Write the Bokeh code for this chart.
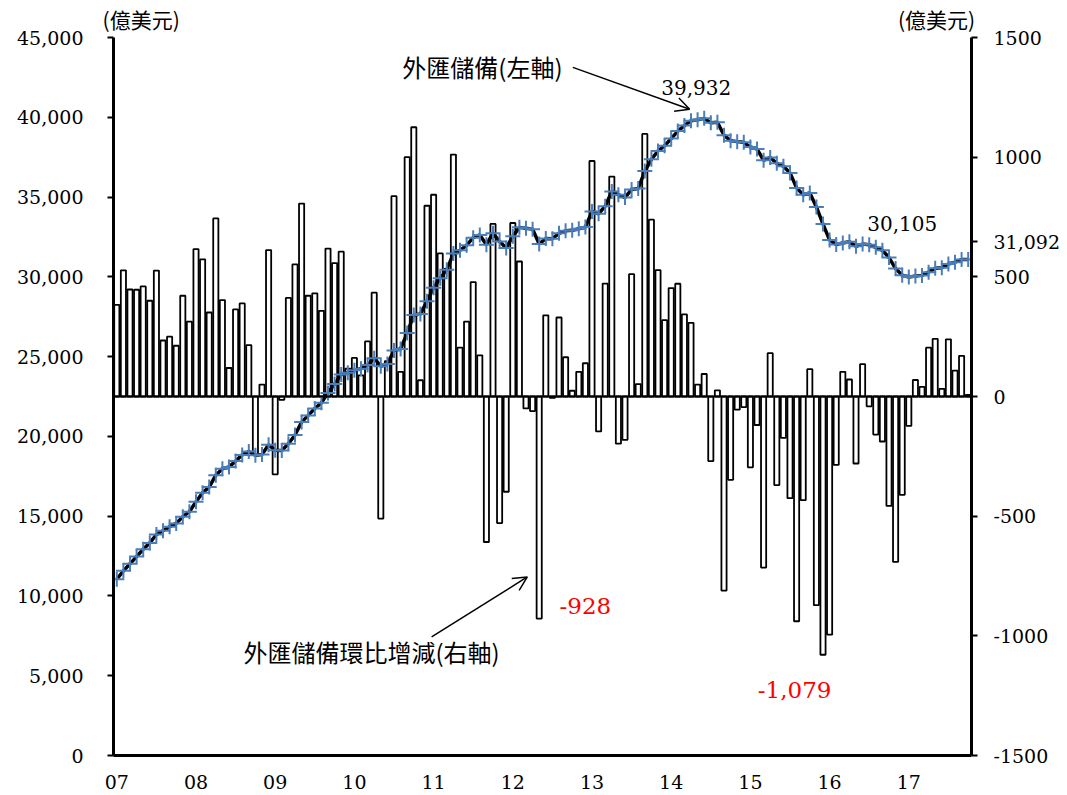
from bokeh.plotting import figure
from bokeh.models import (Range1d, LinearAxis, FixedTicker, Span, Label, Arrow,
                          OpenHead, ColumnDataSource, NumeralTickFormatter)
from bokeh.embed import file_html
from bokeh.resources import INLINE

# ---------------- data (亿美元) ----------------
year_labels = ["07", "08", "09", "10", "11", "12", "13", "14", "15", "16", "17"]

# month-on-month change of FX reserves (right axis)
chg07 = [383, 527, 447, 446, 460, 400, 526, 234, 250, 212, 421, 313]
chg08 = [616, 573, 351, 744, 403, 119, 364, 389, 215, -245, 50, 612]
chg09 = [-325, -14, 412, 552, 806, 421, 431, 358, 618, 557, 605, 116]
chg10 = [161, 88, 230, 434, -510, 148, 837, 103, 1000, 1125, 68, 797]
chg11 = [843, 598, 533, 1011, 204, 313, 478, 172, -608, 721, -529, -398]
chg12 = [725, 564, -50, -61, -928, 339, -6, 330, 164, 24, 103, 139]
chg13 = [984, -146, 472, 919, -197, -181, 511, 52, 1097, 739, 528, 319]
chg14 = [453, 471, 343, 308, 50, 94, -270, 26, -811, -348, -55, -44]
chg15 = [-296, -119, -715, 181, -370, -173, -425, -939, -433, 114, -872, -1079]
chg16 = [-995, -286, 103, 71, -280, 135, -41, -159, -188, -457, -691, -411]
chg17 = [-123, 69, 40, 204, 241, 32, 239, 108, 170, 7]

# FX reserves level (left axis)
lvl07 = [11046, 11573, 12020, 12466, 12926, 13326, 13852, 14086, 14336, 14548, 14969, 15282]
lvl08 = [15898, 16471, 16822, 17566, 17969, 18088, 18452, 18841, 19056, 18811, 18861, 19473]
lvl09 = [19135, 19121, 19537, 20089, 20895, 21316, 21747, 22105, 22726, 23283, 23876, 23992]
lvl10 = [24153, 24241, 24471, 24905, 24395, 24543, 25380, 25483, 26483, 27608, 27676, 28473]
lvl11 = [29316, 29914, 30447, 31458, 31662, 31975, 32453, 32625, 32017, 32738, 32209, 31811]
lvl12 = [32536, 33100, 33050, 32989, 32061, 32400, 32394, 32724, 32888, 32912, 33015, 33116]
lvl13 = [34100, 33954, 34426, 35345, 35148, 34967, 35478, 35530, 36627, 37366, 37894, 38213]
lvl14 = [38666, 39137, 39480, 39788, 39838, 39932, 39662, 39688, 38877, 38529, 38474, 38430]
lvl15 = [38134, 38015, 37300, 37481, 37111, 36938, 36513, 35574, 35141, 35255, 34383, 33304]
lvl16 = [32309, 32023, 32126, 32197, 31917, 32052, 32011, 31852, 31664, 31207, 30516, 30105]
lvl17 = [29982, 30051, 30091, 30295, 30536, 30568, 30807, 30915, 31085, 31092]

left_ticks = [0, 5000, 10000, 15000, 20000, 25000, 30000, 35000, 40000, 45000]
right_ticks = [-1500, -1000, -500, 0, 500, 1000, 1500]
unit_text = "(億美元)"
last_label = "31,092"

changes = chg07 + chg08 + chg09 + chg10 + chg11 + chg12 + chg13 + chg14 + chg15 + chg16 + chg17
levels = lvl07 + lvl08 + lvl09 + lvl10 + lvl11 + lvl12 + lvl13 + lvl14 + lvl15 + lvl16 + lvl17
months = [i + 0.5 for i in range(len(levels))]

src = ColumnDataSource(dict(x=months, chg=changes, lvl=levels))

# ---------------- figure ----------------
W, H = 1066, 792
p = figure(width=W, height=H, output_backend="svg", toolbar_location=None,
           x_range=Range1d(0, len(levels)), y_range=Range1d(0, 45000),
           min_border_left=113, min_border_right=95, min_border_top=35,
           min_border_bottom=37)
p.extra_y_ranges = {"right": Range1d(-1500, 1500)}
p.outline_line_color = None
p.xgrid.visible = False
p.ygrid.visible = False
p.background_fill_color = "white"
p.border_fill_color = "white"

NUM_FONT = "DejaVu Serif"
CJK_FONT = "Noto Sans CJK TC"

# bottom axis
xa = p.below[0]
xticks = [12 * k + 0.5 for k in range(len(year_labels))]
xa.ticker = FixedTicker(ticks=xticks)
xa.major_label_overrides = {t: lab for t, lab in zip(xticks, year_labels)}
xa.axis_line_width = 3
xa.major_tick_out = 0
xa.major_tick_in = 0
xa.minor_tick_line_color = None
xa.major_label_standoff = 19
xa.major_label_text_font = NUM_FONT
xa.major_label_text_font_size = "19px"
xa.major_label_text_color = "black"

# left axis
ya = p.left[0]
ya.ticker = FixedTicker(ticks=left_ticks)
ya.formatter = NumeralTickFormatter(format="0,0")
ya.axis_line_width = 3
ya.major_tick_out = 6
ya.major_tick_in = 0
ya.major_tick_line_width = 2
ya.minor_tick_line_color = None
ya.major_label_standoff = 24
ya.major_label_text_font = NUM_FONT
ya.major_label_text_font_size = "19px"
ya.major_label_text_color = "black"

# right axis (the last reserve value note sits next to it, as in the original)
last_pos = 646  # right-axis height at which the "31,092" note is written
ra = LinearAxis(y_range_name="right")
ra.ticker = FixedTicker(ticks=right_ticks + [last_pos])
overrides = {t: str(t) for t in right_ticks}
overrides[last_pos] = last_label
ra.major_label_overrides = overrides
ra.axis_line_width = 3
ra.major_tick_out = 6
ra.major_tick_in = 0
ra.major_tick_line_width = 2
ra.minor_tick_line_color = None
ra.major_label_standoff = 16
ra.major_label_text_font = NUM_FONT
ra.major_label_text_font_size = "19px"
ra.major_label_text_color = "black"
p.add_layout(ra, "right")

# top axis used only to write the unit captions above both value axes
ta = LinearAxis()
ta.ticker = FixedTicker(ticks=[4.2, 124.7])
ta.major_label_overrides = {4.2: unit_text, 124.7: unit_text}
ta.axis_line_color = None
ta.major_tick_line_color = None
ta.minor_tick_line_color = None
ta.major_tick_out = 0
ta.major_tick_in = 0
ta.major_label_standoff = 4
ta.major_label_text_font = CJK_FONT
ta.major_label_text_font_size = "21px"
ta.major_label_text_color = "black"
p.add_layout(ta, "above")

# bars (right axis)
p.vbar(x="x", top="chg", bottom=0, width=0.78, source=src, y_range_name="right",
       fill_color="white", line_color="black", line_width=1.8)
p.add_layout(Span(location=0, dimension="width", y_range_name="right",
                  line_color="black", line_width=2))

# reserves line (left axis)
p.line(x="x", y="lvl", source=src, line_color="black", line_width=3.5)
p.scatter(x="x", y="lvl", source=src, marker="cross", size=15,
          line_color="#4A7EBB", line_width=2)

# ---------------- annotations ----------------
def lab(x, y, text, font, size, color="black", rng="default"):
    p.add_layout(Label(x=x, y=y, text=text, y_range_name=rng,
                       text_font=font, text_font_size=size,
                       text_color=color, text_align="center",
                       text_baseline="middle"))

lab(55.9, 43188, "外匯儲備(左軸)", CJK_FONT, "24px")
lab(88.3, 41875, "39,932", NUM_FONT, "20px")
lab(119.5, 33312, "30,105", NUM_FONT, "20px")
lab(71.5, -875, "-928", NUM_FONT, "23px", color="#FF0000", rng="right")
lab(39.1, -1067, "外匯儲備環比增減(右軸)", CJK_FONT, "24px", rng="right")
lab(103.2, -1225, "-1,079", NUM_FONT, "23px", color="#FF0000", rng="right")

p.add_layout(Arrow(end=OpenHead(size=14, line_width=1.5, line_color="black"),
                   x_start=69.6, y_start=43125, x_end=87.3, y_end=40500,
                   line_width=1.5, line_color="black"))
p.add_layout(Arrow(end=OpenHead(size=14, line_width=1.5, line_color="black"),
                   x_start=48.2, y_start=-1004, x_end=62.7, y_end=-754,
                   y_range_name="right", line_width=1.5, line_color="black"))

open("out.html", "w").write(file_html(p, INLINE))
